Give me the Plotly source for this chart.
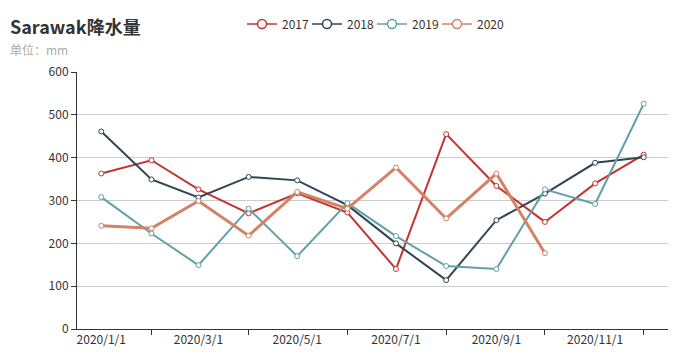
import plotly.graph_objects as go

months = ["2020-01-01", "2020-02-01", "2020-03-01", "2020-04-01", "2020-05-01", "2020-06-01",
          "2020-07-01", "2020-08-01", "2020-09-01", "2020-10-01", "2020-11-01", "2020-12-01"]
rain_2017 = [363, 394, 326, 270, 317, 272, 140, 455, 334, 250, 340, 407]
rain_2018 = [461, 349, 307, 355, 347, 289, 200, 114, 254, 316, 388, 401]
rain_2019 = [308, 223, 149, 281, 170, 294, 217, 147, 140, 326, 292, 526]
rain_2020 = [241, 235, 299, 218, 320, 281, 377, 258, 363, 177, None, None]

label_vals = ["2020-01-01", "2020-03-01", "2020-05-01", "2020-07-01", "2020-09-01", "2020-11-01"]
label_text = ["2020/1/1", "2020/3/1", "2020/5/1", "2020/7/1", "2020/9/1", "2020/11/1"]
tick_vals = ["2020-02-01", "2020-04-01", "2020-06-01", "2020-08-01", "2020-10-01", "2020-12-01"]
y_ticks = [0, 100, 200, 300, 400, 500, 600]

series = [
    ("2017", rain_2017, "#c23531", 2),
    ("2018", rain_2018, "#2f4554", 2),
    ("2019", rain_2019, "#61a0a8", 2),
    ("2020", rain_2020, "#d48265", 3),
]

font = "'Microsoft YaHei', 'Noto Sans CJK SC', sans-serif"
L, R, T, B = 77, 20, 72, 31
PW, PH = 688 - L - R, 360 - T - B
legend_ids = ["legend", "legend2", "legend3", "legend4"]

fig = go.Figure()
for name, vals, color, w in series:
    fig.add_trace(go.Scatter(
        x=months, y=vals, name=name, mode="lines+markers", showlegend=False,
        legendgroup=name,
        line=dict(color=color, width=w),
        marker=dict(symbol="circle", size=5, color="white", line=dict(color=color, width=1)),
        connectgaps=False,
    ))
# legend entries (larger hollow-circle icons, like the original legend)
for i, (name, vals, color, w) in enumerate(series):
    fig.add_trace(go.Scatter(
        x=[None], y=[None], name=name, mode="lines+markers", legendgroup=name,
        legend=legend_ids[i],
        line=dict(color=color, width=1.5),
        marker=dict(symbol="circle", size=9, color="white", line=dict(color=color, width=1.5)),
    ))

fig.update_layout(
    width=688, height=360,
    margin=dict(l=L, r=R, t=T, b=B),
    paper_bgcolor="white", plot_bgcolor="white",
    font=dict(family=font, size=12, color="#333"),
    showlegend=True,
    xaxis=dict(
        type="date", range=["2019-12-17", "2020-12-16"],
        tickmode="array", tickvals=label_vals, ticktext=label_text,
        ticks="", showgrid=False, zeroline=False,
        showline=True, linecolor="#333", linewidth=1,
        tickfont=dict(size=12, color="#333"),
        minor=dict(tickmode="array", tickvals=tick_vals, ticks="outside", ticklen=5,
                   tickcolor="#333", showgrid=False),
    ),
    yaxis=dict(
        range=[0, 600], tickmode="array", tickvals=y_ticks,
        showgrid=True, gridcolor="#ccc", gridwidth=1, zeroline=False,
        showline=True, linecolor="#333", linewidth=1,
        ticks="outside", ticklen=5, tickcolor="#333",
        tickfont=dict(size=12, color="#333"),
    ),
)
for i, lid in enumerate(legend_ids):
    fig.update_layout({lid: dict(
        orientation="h", x=(242 + 65 * i - L) / PW, y=1 - 24 / 360,
        xanchor="left", yanchor="middle", yref="container", xref="paper",
        font=dict(size=12, color="#333"), itemwidth=30, bgcolor="rgba(0,0,0,0)")})

fig.add_annotation(text="<b>Sarawak降水量</b>", xref="paper", yref="paper",
                   x=(8 - L) / PW, y=(360 - B - 26) / PH, showarrow=False,
                   xanchor="left", yanchor="middle",
                   font=dict(size=18, color="#333", family=font))
fig.add_annotation(text="单位：mm", xref="paper", yref="paper",
                   x=(8 - L) / PW, y=(360 - B - 49) / PH, showarrow=False,
                   xanchor="left", yanchor="middle",
                   font=dict(size=12, color="#aaa", family=font))

fig.write_html("out.html", config={"displayModeBar": False},
               post_script="document.body.style.margin='0';")
